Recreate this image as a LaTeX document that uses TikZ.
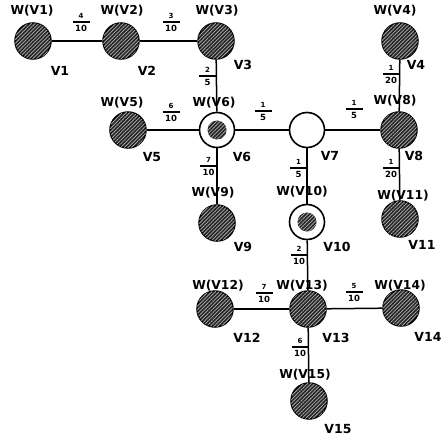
\documentclass[tikz,border=0pt]{standalone}
\usepackage{fontspec}
\setmainfont{DejaVu Sans}
\usetikzlibrary{patterns.meta,positioning}

\tikzset{
  hatch/.style={pattern={Lines[angle=45,distance=2.6pt,line width=0.7pt]}, pattern color=black!30},
  vtx/.style={circle, draw, line width=1.5pt, minimum size=36pt, inner sep=0pt,
    fill=black!85, postaction={hatch}},
  hub/.style={circle, draw, line width=1.6pt, minimum size=35pt, inner sep=0pt, fill=white,
    path picture={\fill[black!85] (path picture bounding box.center) circle (9.5pt);
                  \fill[hatch] (path picture bounding box.center) circle (9.5pt);}},
  plain/.style={circle, draw, line width=1.6pt, minimum size=35pt, inner sep=0pt, fill=white},
  wlab/.style={font=\bfseries\fontsize{12.3}{13}\selectfont, inner sep=0pt},
  vlab/.style={font=\bfseries\fontsize{12.5}{13}\selectfont, inner sep=0pt},
  link/.style={line width=1.5pt},
  fbar/.style={fill=black, minimum width=17pt, minimum height=1.3pt, inner sep=0pt},
  fnum/.style={font=\bfseries\fontsize{7}{7}\selectfont, inner sep=0pt},
  fden/.style={font=\bfseries\fontsize{8.5}{9}\selectfont, inner sep=0pt}
}

% weight label: bar node name, position, numerator, denominator
\newcommand\wfrac[4]{%
  \node[fbar] (#1) at (#2) {};
  \node[fnum, above=2.5pt of #1] (#1n) {#3};
  \node[fden, below=2pt of #1] (#1d) {#4};}

\begin{document}
\begin{tikzpicture}[x=1pt,y=-1pt]
  \useasboundingbox (0,0) rectangle (447,441);

  % vertices
  \node[vtx]   (v1)  at (33,41)  {};
  \node[vtx]   (v2)  at (121,41) {};
  \node[vtx]   (v3)  at (216,41) {};
  \node[vtx]   (v4)  at (400,41) {};
  \node[vtx]   (v5)  at (128,130) {};
  \node[hub]   (v6)  at (217,130) {};
  \node[plain] (v7)  at (307,130) {};
  \node[vtx]   (v8)  at (399,130) {};
  \node[vtx]   (v9)  at (217,223) {};
  \node[hub]   (v10) at (307,222) {};
  \node[vtx]   (v11) at (400,219) {};
  \node[vtx]   (v12) at (215,309) {};
  \node[vtx]   (v13) at (308,309) {};
  \node[vtx]   (v14) at (401,308) {};
  \node[vtx]   (v15) at (309,401) {};

  % edges
  \draw[link] (v1) -- (v2);
  \draw[link] (v2) -- (v3);
  \draw[link] (v3) -- (v6);
  \draw[link] (v5) -- (v6);
  \draw[link] (v6) -- (v7);
  \draw[link] (v7) -- (v8);
  \draw[link] (v4) -- (v8);
  \draw[link] (v8) -- (v11);
  \draw[link] (v6) -- (v9);
  \draw[link] (v7) -- (v10);
  \draw[link] (v10) -- (v13);
  \draw[link] (v12) -- (v13);
  \draw[link] (v13) -- (v14);
  \draw[link] (v13) -- (v15);

  % weight labels W(Vi)
  \node[wlab] (w1)  at (32,11)  {W(V1)};
  \node[wlab] (w2)  at (122,11) {W(V2)};
  \node[wlab] (w3)  at (217,11) {W(V3)};
  \node[wlab] (w4)  at (395,11) {W(V4)};
  \node[wlab] (w5)  at (122,103) {W(V5)};
  \node[wlab] (w6)  at (214,103) {W(V6)};
  \node[wlab] (w8)  at (395,101) {W(V8)};
  \node[wlab] (w9)  at (213,193) {W(V9)};
  \node[wlab] (w10) at (302,192) {W(V10)};
  \node[wlab] (w11) at (403,196) {W(V11)};
  \node[wlab] (w12) at (218,286) {W(V12)};
  \node[wlab] (w13) at (302,286) {W(V13)};
  \node[wlab] (w14) at (400,286) {W(V14)};
  \node[wlab] (w15) at (305,375) {W(V15)};

  % vertex names
  \node[vlab] (n1)  at (60,71)  {V1};
  \node[vlab] (n2)  at (147,71) {V2};
  \node[vlab] (n3)  at (243,65) {V3};
  \node[vlab] (n4)  at (416,65) {V4};
  \node[vlab] (n5)  at (152,157) {V5};
  \node[vlab] (n6)  at (242,157) {V6};
  \node[vlab] (n7)  at (330,156) {V7};
  \node[vlab] (n8)  at (414,156) {V8};
  \node[vlab] (n9)  at (243,247) {V9};
  \node[vlab] (n10) at (337,247) {V10};
  \node[vlab] (n11) at (422,245) {V11};
  \node[vlab] (n12) at (247,338) {V12};
  \node[vlab] (n13) at (336,338) {V13};
  \node[vlab] (n14) at (428,337) {V14};
  \node[vlab] (n15) at (338,429) {V15};

  % edge weights
  \wfrac{f12}{81,22}{4}{10}
  \wfrac{f23}{171,22}{3}{10}
  \wfrac{f36}{207.5,76}{2}{5}
  \wfrac{f56}{171,112}{6}{10}
  \wfrac{f67}{263,111}{1}{5}
  \wfrac{f78}{354,109}{1}{5}
  \wfrac{f48}{391,74}{1}{20}
  \wfrac{f811}{391,168}{1}{20}
  \wfrac{f69}{208.5,166}{7}{10}
  \wfrac{f710}{298.5,168}{1}{5}
  \wfrac{f1013}{299,255}{2}{10}
  \wfrac{f1213}{264,293}{7}{10}
  \wfrac{f1314}{354,292}{5}{10}
  \wfrac{f1315}{300,347}{6}{10}
\end{tikzpicture}
\end{document}
